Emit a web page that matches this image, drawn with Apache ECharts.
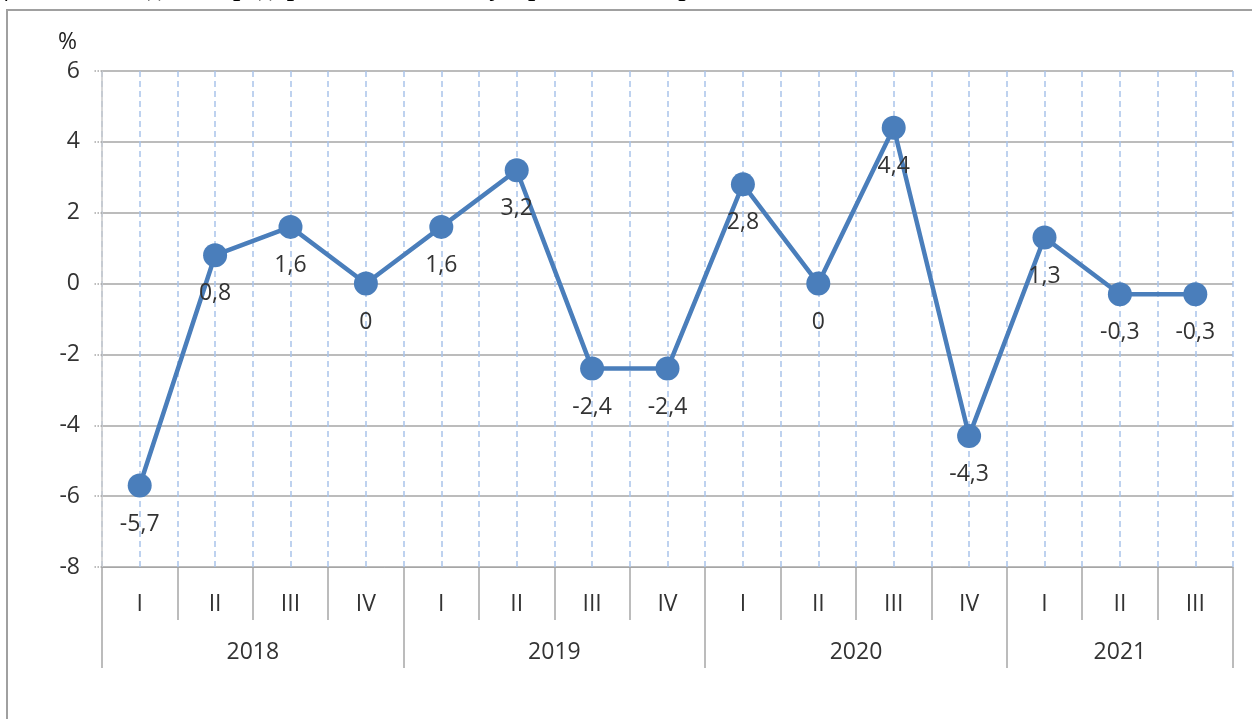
<!DOCTYPE html>
<html>
<head>
<meta charset="utf-8">
<script src="https://cdn.jsdelivr.net/npm/echarts@6/dist/echarts.min.js"></script>
<style>html,body{margin:0;padding:0;background:#fff}#c{width:1252px;height:719px}</style>
</head>
<body>
<div id="c"></div>
<script>
const quarters = ['I','II','III','IV','I','II','III','IV','I','II','III','IV','I','II','III'];
const years = ['2018','2019','2020','2021'];
const yearCenters = [2, 6, 10, 13.5];
const yearBounds = [0, 4, 8, 12, 15];
const values = [-5.7, 0.8, 1.6, 0, 1.6, 3.2, -2.4, -2.4, 2.8, 0, 4.4, -4.3, 1.3, -0.3, -0.3];
const yTicks = {min: -8, max: 6, interval: 2};
const titleText = 'Динамика индекса предпринимательской уверенности в промышленности';

const FONT = '"Open Sans", "Liberation Sans", sans-serif';
const chart = echarts.init(document.getElementById('c'));
chart.setOption({
  backgroundColor: '#fff',
  animation: false,
  grid: {left: 102, right: 19, top: 71, bottom: 152},
  graphic: [
    {type: 'rect', shape: {x: 7, y: 10, width: 1400, height: 900},
     style: {fill: 'none', stroke: '#a0a0a0', lineWidth: 2}},
    {type: 'text', x: -10, y: 2,
     style: {text: titleText, font: 'bold 26px "Liberation Serif", serif', fill: '#000', textVerticalAlign: 'bottom'}},
    {type: 'text', x: 58, y: 31,
     style: {text: '%', font: '23px ' + FONT, fill: '#222'}}
  ],
  xAxis: [
    {
      type: 'category', data: quarters, boundaryGap: true, position: 'bottom',
      axisLine: {show: true, onZero: false, lineStyle: {color: '#a6a6a6', width: 1}},
      axisTick: {show: true, length: 53, lineStyle: {color: '#a6a6a6', width: 1.5}},
      axisLabel: {margin: 26, fontSize: 23, color: '#333', fontFamily: FONT},
      splitLine: {show: false}
    },
    {
      type: 'value', min: 0, max: 15, position: 'bottom',
      axisLine: {show: false, onZero: false},
      axisTick: {show: true, customValues: yearBounds, length: 101, lineStyle: {color: '#a6a6a6', width: 1.5}},
      axisLabel: {show: true, customValues: yearCenters, margin: 74, fontSize: 23, color: '#333', fontFamily: FONT,
        formatter: v => { const i = yearCenters.indexOf(v); return i >= 0 ? years[i] : ''; }},
      splitLine: {show: false}
    },
    {
      type: 'value', min: 0, max: 15, interval: 0.5, position: 'top',
      axisLine: {show: false, onZero: false}, axisTick: {show: false}, axisLabel: {show: false},
      splitLine: {show: true, lineStyle: {color: '#a9c3ea', type: [6, 4], width: 1.5}}
    }
  ],
  yAxis: {
    type: 'value', min: yTicks.min, max: yTicks.max, interval: yTicks.interval,
    axisLine: {show: true, lineStyle: {color: '#c8c8c8', width: 1.5}},
    axisTick: {show: true, length: 9, lineStyle: {color: '#a6a6a6', type: 'dotted', width: 1.5}},
    axisLabel: {margin: 22, fontSize: 23, color: '#333', fontFamily: FONT},
    splitLine: {show: true, lineStyle: {color: '#a6a6a6', width: 1.5}}
  },
  series: [{
    type: 'line', xAxisIndex: 0, data: values,
    symbol: 'circle', symbolSize: 24,
    lineStyle: {color: '#4a7ebb', width: 4.5},
    itemStyle: {color: '#4a7ebb'},
    label: {show: true, position: 'bottom', distance: 15, fontSize: 23, color: '#333', fontFamily: FONT,
      formatter: p => String(p.value).replace('.', ',')},
    z: 5
  }]
});
</script>
</body>
</html>
